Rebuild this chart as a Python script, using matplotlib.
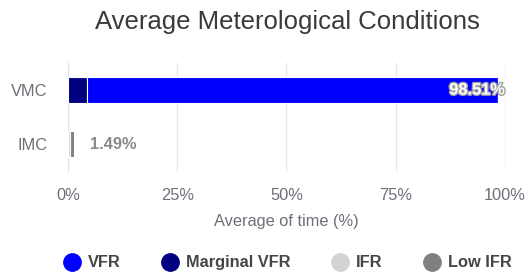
import matplotlib.pyplot as plt
import matplotlib.patheffects as pe
from matplotlib.lines import Line2D
import numpy as np

plt.rcParams['font.family'] = ['Liberation Sans', 'DejaVu Sans']

categories = ['VMC', 'IMC']
series = ['VFR', 'Marginal VFR', 'IFR', 'Low IFR']
colors = ['#0000ff', '#000080', '#d3d3d3', '#808080']
# values (%) per series, per category [VMC, IMC]
vfr = [94.11, 0.0]
marginal_vfr = [4.40, 0.0]
ifr = [0.0, 0.35]
low_ifr = [0.0, 1.14]
totals = ['98.51%', '1.49%']
xticks = [0, 25, 50, 75, 100]

fig = plt.figure(figsize=(5.27, 2.75), dpi=100)
ax = fig.add_axes([0.129, 0.378, 0.829, 0.393])

y = np.arange(len(categories))
stack_order = [(marginal_vfr, 1), (vfr, 0), (ifr, 2), (low_ifr, 3)]
left = np.zeros(len(categories))
for vals, ci in stack_order:
    vals = np.array(vals)
    ax.barh(y, vals, left=left, height=0.48, color=colors[ci],
            edgecolor='white', linewidth=0.8, zorder=3)
    left += vals

lbl_color = '#6e7079'
fs = 11.8
# value labels
ax.text(left[0] + 1.5, y[0], totals[0], ha='right', va='center', fontsize=fs,
        color='white', fontweight='bold', zorder=5,
        path_effects=[pe.withStroke(linewidth=2, foreground='#a0a0a0')])
ax.text(left[1] + 3.5, y[1], totals[1], ha='left', va='center', fontsize=fs,
        color='#8a8a8a', fontweight='bold', zorder=5)

ax.set_xlim(0, 100)
ax.set_ylim(1.5, -0.5)
ax.set_xticks(xticks)
ax.set_xticklabels([f'{t}%' for t in xticks])
ax.set_yticks(y)
ax.set_yticklabels(categories)
ax.tick_params(axis='both', length=0, labelsize=fs, colors=lbl_color)
ax.tick_params(axis='y', pad=15)
ax.tick_params(axis='x', pad=12)
ax.grid(axis='x', color='#e0e6f1', linewidth=1, zorder=0)
for s in ['top', 'right', 'bottom']:
    ax.spines[s].set_visible(False)
ax.spines['left'].set_color('#d5dcec')
ax.spines['left'].set_zorder(1)
ax.set_xlabel('Average of time (%)', fontsize=fs, color=lbl_color, labelpad=8)

fig.text(0.545, 0.92, 'Average Meterological Conditions', ha='center', va='center',
         fontsize=18.5, color='#3a3a3a')

handles = [Line2D([], [], marker='o', linestyle='none', markersize=12.5,
                  markerfacecolor=c, markeredgecolor=c) for c in colors]
leg = fig.legend(handles, series, loc='center', bbox_to_anchor=(0.546, 0.044),
                 ncol=4, frameon=False, handlelength=1.0, handletextpad=0.5,
                 columnspacing=2.5, borderpad=0, prop={'size': fs, 'weight': 'bold'})
for t in leg.get_texts():
    t.set_color('#464646')

fig.savefig('out.png', dpi=100)
